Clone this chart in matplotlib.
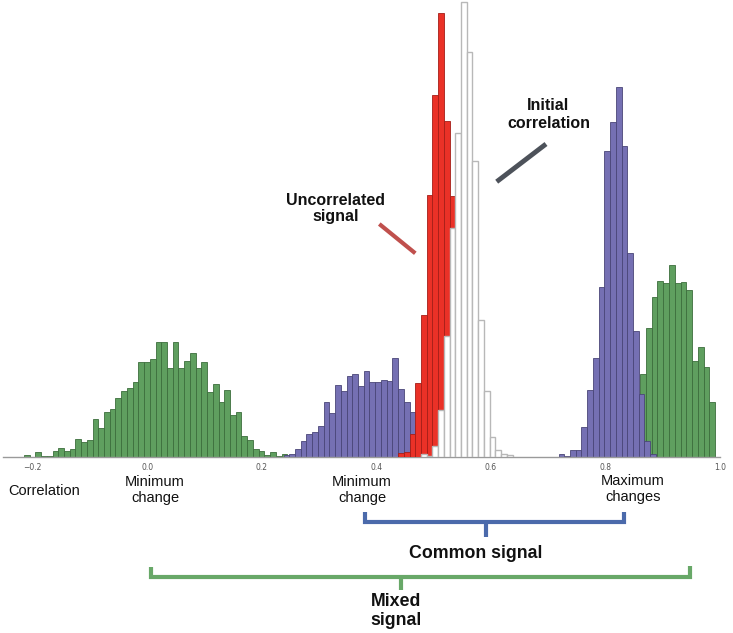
import numpy as np
import matplotlib.pyplot as plt
from matplotlib.lines import Line2D

W, H = 733, 633
bin_w = 0.01

# bar heights (counts per bin)
green_left_start = -0.2156
green_left = [2, 0, 5, 1, 1, 6, 9, 6, 8, 18, 15, 17, 38, 29, 45, 48, 59, 66, 69, 75,
              95, 95, 98, 115, 115, 89, 115, 89, 96, 104, 89, 95, 65, 73, 55, 67,
              42, 45, 21, 17, 8, 6, 2, 5, 1, 3]

purple_left_start = 0.2378
purple_left = [1.5, 2.7, 7.3, 16, 22.3, 24.3, 30.7, 54.3, 43.3, 71.3, 65.7, 81, 82.7,
               71, 85.7, 75, 75, 76.7, 75.7, 98.7, 68, 55, 45, 32, 20, 10, 4]

red_start = 0.4378
red_counts = [4, 5, 22.5, 74, 142, 262, 362, 444, 336, 261]

white_start = 0.4778
white_counts = [2.5, 1, 10.5, 47, 120.5, 229, 324, 455, 405, 296, 137, 65.5, 20,
                6.5, 3, 1.5]

purple_right_start = 0.718
purple_right = [3, 1, 7, 7, 30, 67, 99, 170, 306, 335, 370, 311, 204, 126, 63, 16, 3]

green_right_start = 0.8604
green_right_w = 0.0101
green_right = [83, 129, 160, 176, 174, 192, 174, 175, 167, 96, 110, 90, 55]

xticks = [-0.2, 0.0, 0.2, 0.4, 0.6, 0.8, 1.0]

green = '#5f9f5f'
purple = '#7570b3'
red = '#ea3127'

fig = plt.figure(figsize=(W / 100, H / 100), dpi=100)
ax = fig.add_axes([3 / W, 1 - 456.5 / H, 717 / W, 456.5 / H])


def draw_hist(start, counts, width, **kw):
    counts = np.asarray(counts, dtype=float)
    lefts = start + width * np.arange(len(counts))
    ax.bar(lefts, counts, width=width, align='edge', **kw)


draw_hist(green_left_start, green_left, bin_w, color=green, edgecolor='#3c6e3c', linewidth=0.6, zorder=1)
draw_hist(green_right_start, green_right, green_right_w, color=green, edgecolor='#3c6e3c', linewidth=0.6, zorder=1)
draw_hist(purple_left_start, purple_left, bin_w, color=purple, edgecolor='#4a4678', linewidth=0.6, zorder=2)
draw_hist(purple_right_start, purple_right, bin_w, color=purple, edgecolor='#4a4678', linewidth=0.6, zorder=2)
draw_hist(red_start, red_counts, bin_w, color=red, edgecolor='#a51e18', linewidth=0.6, zorder=3)
draw_hist(white_start, white_counts, bin_w, color='white', edgecolor='#b8b8b8', linewidth=1.0, zorder=4)

ax.set_xlim((3 - 148.3) / 576.5, (720 - 148.3) / 576.5)
ax.set_ylim(0, 456.5)
ax.set_xticks(xticks)
ax.set_xticklabels([f'{t:.1f}'.replace('-', '\u2212') for t in xticks])
ax.set_yticks([])
for s in ['left', 'right', 'top']:
    ax.spines[s].set_visible(False)
ax.spines['bottom'].set_color('#9a9a9a')
ax.spines['bottom'].set_linewidth(1.0)
ax.tick_params(axis='x', length=0, pad=5, labelsize=5.5, labelcolor='#555555')


def fpt(x, y):
    return x / W, 1 - y / H


def fig_line(pts, color, lw):
    xs = [p[0] / W for p in pts]
    ys = [1 - p[1] / H for p in pts]
    fig.add_artist(Line2D(xs, ys, color=color, linewidth=lw, solid_capstyle='butt',
                          solid_joinstyle='miter'))


def fig_text(x, y, s, size, weight='normal', ls=1.2):
    fx, fy = fpt(x, y)
    fig.text(fx, fy, s, ha='center', va='center', fontsize=size, fontweight=weight,
             family='Liberation Sans', linespacing=ls, color='#111111')


# plain labels under the axis
fig_text(44, 491, 'Correlation', 10.5)
fig_text(155, 490, 'Minimum\nchange', 10.5, ls=1.25)
fig_text(362, 490, 'Minimum\nchange', 10.5, ls=1.25)
fig_text(633, 489, 'Maximum\nchanges', 10.5, ls=1.25)

# brackets
blue = '#4b6aab'
fig_line([(365, 512), (365, 522), (624, 522), (624, 512)], blue, 3)
fig_line([(486, 522), (486, 537)], blue, 3)
fig_text(476, 554, 'Common signal', 12.8, 'bold')

gbr = '#68a868'
fig_line([(151, 567), (151, 577), (690, 577), (690, 566)], gbr, 3)
fig_line([(401, 577), (401, 590)], gbr, 3)
fig_text(396, 611, 'Mixed\nsignal', 12.8, 'bold')

# pointers
fig_text(548.5, 115, 'Initial\ncorrelation', 11.5, 'bold', ls=1.25)
fig_line([(496.7, 181.7), (546, 144)], '#4d525a', 3.5)

fig_text(335.5, 208.5, 'Uncorrelated\nsignal', 11.5, 'bold', ls=1.15)
fig_line([(379.3, 224), (415.3, 253.3)], '#c0504d', 3)

fig.savefig('out.png', dpi=100)
